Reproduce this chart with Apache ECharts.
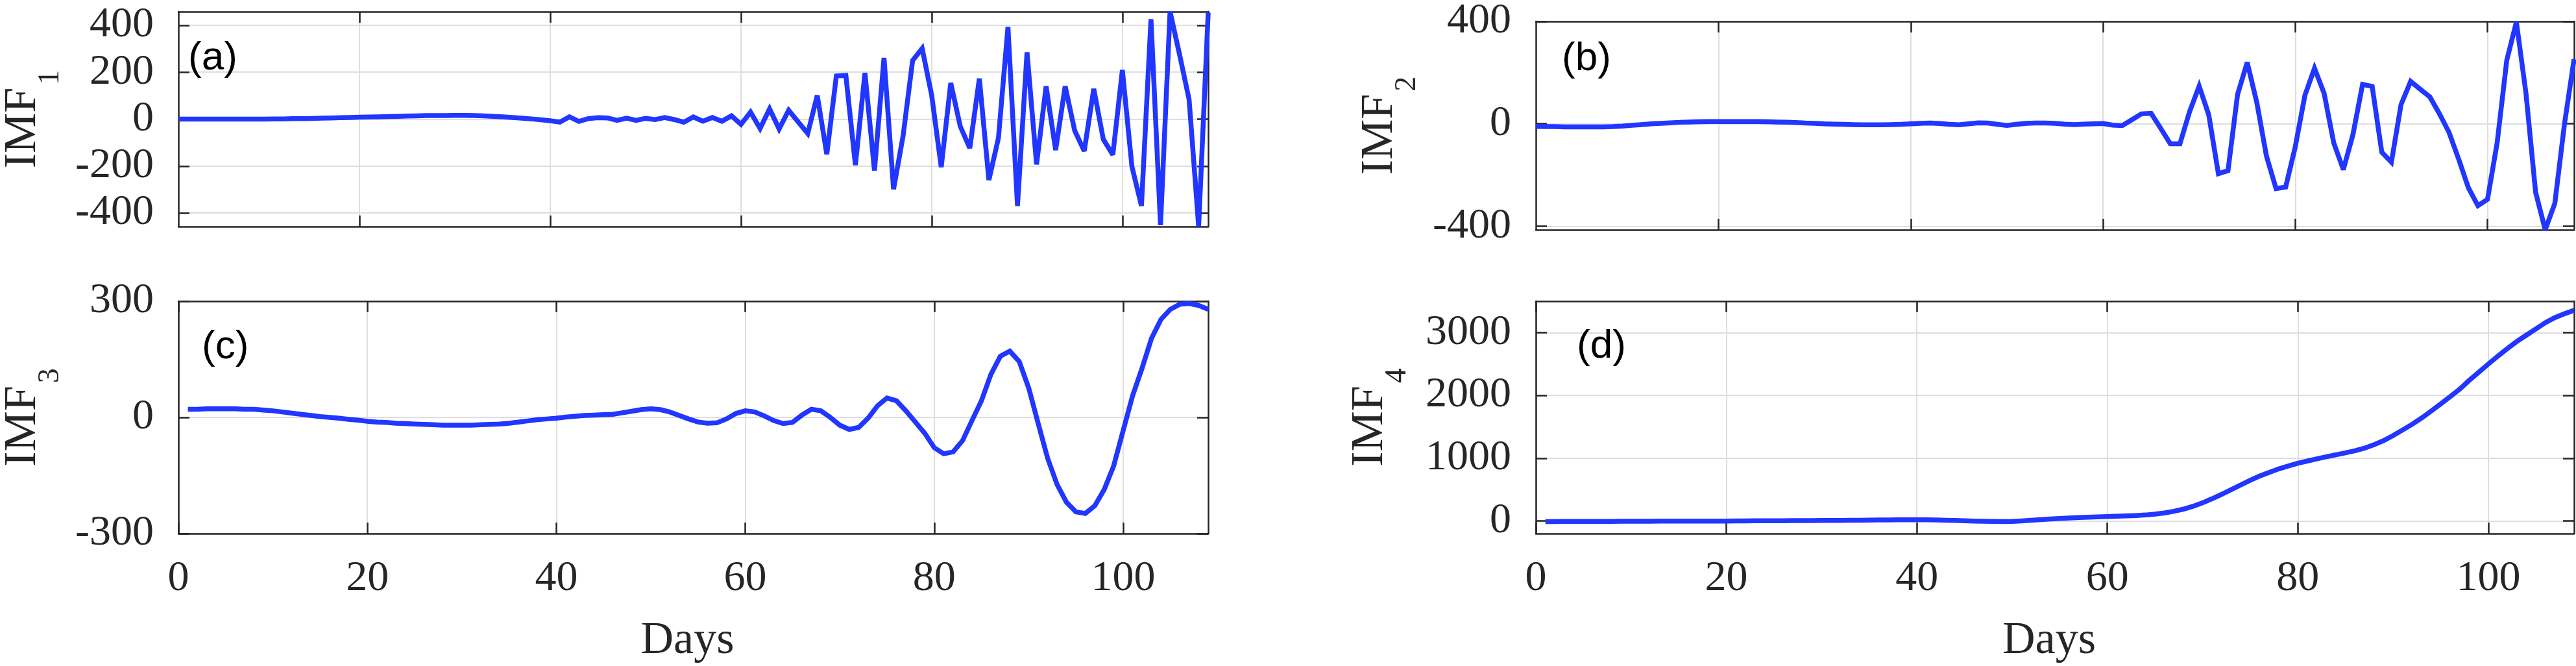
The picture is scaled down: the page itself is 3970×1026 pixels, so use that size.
<!DOCTYPE html>
<html><head><meta charset="utf-8">
<script src="https://cdn.jsdelivr.net/npm/echarts@6/dist/echarts.min.js"></script>
<style>html,body{margin:0;padding:0;background:#fff}#c{width:3970px;height:1026px}</style>
</head><body><div id="c"></div>
<script>
// ---------------- data ----------------
const days = Array.from({length: 109}, (_, i) => i + 1);

const imf1 = [
  0, 0, 0, 0, 0, 0, 0, 0, 0, 0,
  1, 1, 2, 2, 3, 4, 5, 6, 7, 8,
  9, 10, 11, 12, 13, 14, 15, 15, 15, 16,
  16, 15, 14, 12, 10, 7, 4, 1, -3, -7,
  -13, 10, -10, 2, 6, 5, -5, 4, -5, 3,
  -2, 7, -2, -13, 9, -9, 7, -9, 14, -22,
  30, -40, 44, -42, 38, -12, -61, 101, -150, 184,
  186, -196, 197, -219, 261, -299, -72, 250, 301, 102,
  -205, 154, -31, -124, 173, -260, -81, 393, -370, 285,
  -193, 140, -132, 140, -49, -136, 129, -86, -152, 209,
  -202, -370, 426, -452, 458, 275, 83, -458, 454
];

const imf2 = [
  -10, -11, -11, -12, -12, -12, -12, -12, -11, -9,
  -6, -3, 0, 2, 4, 6, 7, 8, 9, 9,
  9, 9, 9, 9, 8, 7, 6, 5, 3, 2,
  0, -1, -2, -3, -4, -4, -4, -3, -2, 0,
  2, 3, 1, -2, -4, 0, 4, 3, -2, -6,
  -2, 2, 3, 3, 2, -1, -3, -1, 0, 1,
  -5, -7, 16, 39, 41, -18, -78, -78, 47, 147,
  35, -195, -183, 115, 240, 83, -126, -253, -247, -90,
  111, 217, 119, -74, -179, -42, 154, 146, -111, -150,
  75, 166, 135, 105, 39, -34, -138, -249, -320, -295,
  -74, 248, 398, 119, -267, -414, -311, -2, 252
];

const imf3 = [
  21, 21, 22, 22, 22, 22, 21, 21, 19, 17,
  14, 11, 8, 5, 2, 0, -2, -5, -7, -10,
  -12, -13, -15, -16, -17, -18, -19, -20, -20, -20,
  -20, -19, -18, -17, -15, -12, -9, -6, -4, -2,
  1, 3, 5, 6, 7, 8, 12, 16, 20, 22,
  20, 14, 5, -4, -12, -15, -14, -4, 10, 17,
  14, 4, -8, -16, -13, 6, 21, 17, 0, -20,
  -31, -26, -2, 30, 50, 43, 17, -12, -41, -78,
  -94, -89, -60, -8, 43, 111, 158, 171, 144, 76,
  -15, -105, -173, -219, -244, -248, -228, -186, -125, -34,
  56, 127, 204, 253, 279, 292, 294, 289, 279
];

const imf4 = [
  -8, -8, -7, -7, -6, -6, -5, -5, -4, -4,
  -3, -3, -2, -2, -1, -1, 0, 0, 0, 0,
  1, 2, 3, 4, 4, 5, 6, 7, 7, 8,
  9, 10, 12, 13, 15, 16, 18, 19, 20, 20,
  19, 17, 13, 9, 4, 0, -4, -7, -8, -6,
  2, 12, 22, 32, 40, 48, 55, 61, 67, 72,
  76, 81, 87, 96, 110, 128, 155, 190, 235, 290,
  355, 425, 500, 575, 648, 717, 775, 830, 876, 920,
  955, 990, 1024, 1055, 1085, 1120, 1160, 1215, 1280, 1360,
  1450, 1540, 1640, 1750, 1865, 1980, 2100, 2240, 2370, 2500,
  2625, 2745, 2860, 2960, 3060, 3160, 3240, 3300, 3355
];

const panelLabels = ['(a)', '(b)', '(c)', '(d)'];
const yNameSubs = ['1', '2', '3', '4'];
const yNameBase = 'IMF';
const xName = 'Days';
const xTicksTop = [20, 40, 60, 80, 100];
const xTicksBottom = [0, 20, 40, 60, 80, 100];
const yTicksA = [-400, -200, 0, 200, 400];
const yTicksB = [-400, 0, 400];
const yTicksC = [-300, 0, 300];
const yTicksD = [0, 1000, 2000, 3000];

// ---------------- layout / style ----------------
const SERIF = '"Liberation Serif", "Times New Roman", serif';
const SANS = '"Liberation Sans", Arial, sans-serif';
const AX = '#262626';
const GRIDC = '#dedede';
const LINEC = '#2136ff';

const grids = [
  {left: 265, top: 18, width: 1597, height: 331},
  {left: 2367, top: 18, width: 1600, height: 336},
  {left: 265, top: 464, width: 1597, height: 358},
  {left: 2367, top: 464, width: 1600, height: 358}
];
const series = [imf1, imf2, imf3, imf4];
const xMin = [1, 1, 0, 0];
const xMax = [109, 109, 109, 109];
const yMin = [-458, -414, -300, -200];
const yMax = [458, 400, 300, 3500];
const yTicks = [yTicksA, yTicksB, yTicksC, yTicksD];
const xTicks = [xTicksTop, xTicksTop, xTicksBottom, xTicksBottom];
const xLabelsShown = [false, false, true, true];
const yNameGap = [174, 175, 174, 190];
const labelPos = [[290, 90], [2407, 91], [311, 535], [2430, 534]];

const plain = v => String(v);
const xAxes = [], yAxes = [], seriesOpt = [], graphics = [];
for (let i = 0; i < 4; i++) {
  const tickStyle = {show: true, inside: true, length: 17, customValues: xTicks[i], lineStyle: {color: AX, width: 2.5}};
  const lineSty = {show: true, onZero: false, lineStyle: {color: AX, width: 2.5}};
  xAxes.push({
    type: 'value', gridIndex: i, position: 'bottom', min: xMin[i], max: xMax[i],
    axisLine: lineSty, axisTick: tickStyle,
    axisLabel: {show: xLabelsShown[i], customValues: xTicks[i], formatter: plain, margin: 37, fontFamily: SERIF, fontSize: 66, color: AX},
    splitLine: {show: true, lineStyle: {color: GRIDC, width: 2}},
    name: xLabelsShown[i] ? xName : '', nameLocation: 'middle', nameGap: 131,
    nameTextStyle: {fontFamily: SERIF, fontSize: 70, color: AX, padding: [0, 18, 0, 0]}
  });
  xAxes.push({
    type: 'value', gridIndex: i, position: 'top', min: xMin[i], max: xMax[i],
    axisLine: lineSty, axisTick: tickStyle,
    axisLabel: {show: false, customValues: xTicks[i]}, splitLine: {show: false}
  });
  const yTickStyle = {show: true, inside: true, length: 17, customValues: yTicks[i], lineStyle: {color: AX, width: 2.5}};
  yAxes.push({
    type: 'value', gridIndex: i, position: 'left', min: yMin[i], max: yMax[i],
    axisLine: lineSty, axisTick: yTickStyle,
    axisLabel: {show: true, customValues: yTicks[i], formatter: plain, margin: 38, fontFamily: SERIF, fontSize: 66, color: AX, padding: [10, 0, 0, 0]},
    splitLine: {show: true, lineStyle: {color: GRIDC, width: 2}},
    name: '{m|' + yNameBase + '}{s|' + yNameSubs[i] + '}', nameLocation: 'middle', nameRotate: 90, nameGap: yNameGap[i],
    nameTextStyle: {
      fontFamily: SERIF, fontSize: 70, color: AX,
      rich: {
        m: {fontFamily: SERIF, fontSize: 70, color: AX},
        s: {fontFamily: SERIF, fontSize: 46, color: AX, padding: [84, 0, 0, 4]}
      }
    }
  });
  yAxes.push({
    type: 'value', gridIndex: i, position: 'right', min: yMin[i], max: yMax[i],
    axisLine: lineSty, axisTick: yTickStyle,
    axisLabel: {show: false, customValues: yTicks[i]}, splitLine: {show: false}
  });
  seriesOpt.push({
    type: 'line', xAxisIndex: 2 * i, yAxisIndex: 2 * i,
    data: days.map((d, k) => [d, series[i][k]]),
    showSymbol: false, symbol: 'none', smooth: false,
    lineStyle: {color: LINEC, width: 7.5, join: 'miter', miterLimit: 3},
    itemStyle: {color: LINEC}, z: 3
  });
  graphics.push({
    type: 'text', x: labelPos[i][0], y: labelPos[i][1], z: 10,
    style: {text: panelLabels[i], fontFamily: SANS, fontSize: 62, fill: '#000', align: 'left', verticalAlign: 'middle'}
  });
}

const chart = echarts.init(document.getElementById('c'), null, {renderer: 'canvas'});
chart.setOption({
  animation: false,
  backgroundColor: '#fff',
  grid: grids.map(g => Object.assign({containLabel: false, show: false}, g)),
  xAxis: xAxes,
  yAxis: yAxes,
  series: seriesOpt,
  graphic: graphics
});
</script>
</body></html>
